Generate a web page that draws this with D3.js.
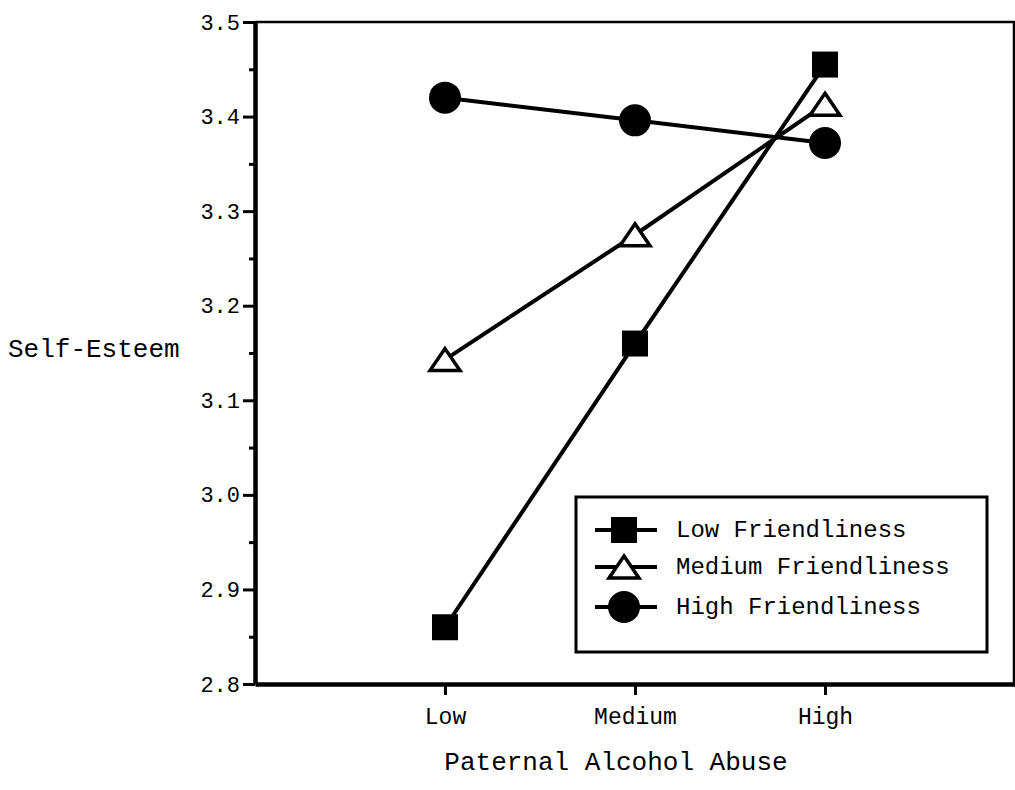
<!doctype HTML>
<html>
<head>
    <script src="https://d3js.org/d3.v7.min.js"></script>
    <style>
        body { margin: 0; background: #fff; }
        text { font-family: "Liberation Mono", "Courier New", monospace; fill: #000; }
    </style>
</head>
<body>
<script>

    // data
    var abuseLevels = ["Low", "Medium", "High"];
    var seriesNames = ["Low Friendliness", "Medium Friendliness", "High Friendliness"];
    var lowFriendliness = [2.86, 3.16, 3.455];
    var mediumFriendliness = [3.143, 3.275, 3.413];
    var highFriendliness = [3.42, 3.396, 3.372];
    var yTicks = [2.8, 2.9, 3.0, 3.1, 3.2, 3.3, 3.4, 3.5];
    var yMinorTicks = [2.85, 2.95, 3.05, 3.15, 3.25, 3.35, 3.45];

    var series = [
        {name: seriesNames[0], values: lowFriendliness, shape: "square"},
        {name: seriesNames[1], values: mediumFriendliness, shape: "triangle"},
        {name: seriesNames[2], values: highFriendliness, shape: "circle"}
    ];

    var margin = {top: 22, right: 0, bottom: 106, left: 255},
        width = 1015 - margin.left - margin.right,
        height = 790 - margin.top - margin.bottom;

    var svg = d3.select("body")
        .append("svg")
        .attr("width", 1015)
        .attr("height", 790)
        .append("g")
        .attr("transform", "translate(" + margin.left + "," + margin.top + ")");

    var x = d3.scalePoint()
        .domain(abuseLevels)
        .range([0, width])
        .padding(1);
    var y = d3.scaleLinear()
        .domain([2.8, 3.5])
        .range([height, 0]);

    // top and right frame
    svg.append("path")
        .attr("d", "M0,0H" + (width - 1) + "V" + height)
        .attr("fill", "none")
        .attr("stroke", "#000")
        .attr("stroke-width", 2.5);

    // y axis, minor ticks first
    svg.append("g")
        .call(d3.axisLeft(y).tickValues(yMinorTicks).tickSize(6).tickFormat(""))
        .call(g => g.select(".domain").remove())
        .selectAll("line").attr("stroke-width", 3);

    var yAxis = svg.append("g")
        .call(d3.axisLeft(y).tickValues(yTicks).tickSize(12).tickSizeOuter(0).tickPadding(3)
            .tickFormat(d3.format(".1f")));
    yAxis.select(".domain").attr("stroke-width", 4.5);
    yAxis.selectAll("line").attr("stroke-width", 3);
    yAxis.selectAll("text")
        .attr("font-size", "22px")
        .style("font-family", "'Liberation Mono', 'Courier New', monospace");

    // x axis
    var xAxis = svg.append("g")
        .attr("transform", "translate(0," + height + ")")
        .call(d3.axisBottom(x).tickSize(11).tickSizeOuter(0).tickPadding(13));
    xAxis.select(".domain").attr("stroke-width", 4.5);
    xAxis.selectAll("line").attr("stroke-width", 3);
    xAxis.selectAll("text")
        .attr("font-size", "23px")
        .style("font-family", "'Liberation Mono', 'Courier New', monospace");

    // axis titles
    svg.append("text")
        .attr("x", 616 - margin.left)
        .attr("y", 770 - margin.top)
        .attr("text-anchor", "middle")
        .attr("font-size", "26px")
        .text("Paternal Alcohol Abuse");

    svg.append("text")
        .attr("x", 8 - margin.left)
        .attr("y", 357 - margin.top)
        .attr("font-size", "26px")
        .text("Self-Esteem");

    // marker shapes
    function markerPath(shape) {
        if (shape === "square") return "M-13,-13H13V13H-13Z";
        if (shape === "triangle") return "M0,-11L15,11H-15Z";
        return d3.symbol().type(d3.symbolCircle).size(Math.PI * 16 * 16)();
    }
    function styleMarker(sel, shape) {
        sel.attr("d", markerPath(shape))
            .attr("fill", shape === "triangle" ? "#fff" : "#000")
            .attr("stroke", "#000")
            .attr("stroke-width", shape === "triangle" ? 3.5 : 0);
    }

    var line = d3.line()
        .x((d, i) => x(abuseLevels[i]))
        .y(d => y(d));

    svg.selectAll(".series-line")
        .data(series)
        .enter().append("path")
        .attr("class", "series-line")
        .attr("d", d => line(d.values))
        .attr("fill", "none")
        .attr("stroke", "#000")
        .attr("stroke-width", 4);

    series.forEach(function(s) {
        svg.selectAll(".pt-" + s.shape)
            .data(s.values)
            .enter().append("path")
            .attr("class", "pt-" + s.shape)
            .attr("transform", (d, i) => "translate(" + x(abuseLevels[i]) + "," + y(d) + ")")
            .call(styleMarker, s.shape);
    });

    // legend
    var legend = svg.append("g")
        .attr("transform", "translate(" + (576 - margin.left) + "," + (497 - margin.top) + ")");
    legend.append("rect")
        .attr("width", 411)
        .attr("height", 155)
        .attr("fill", "#fff")
        .attr("stroke", "#000")
        .attr("stroke-width", 3);

    var rows = [33, 70, 110];
    series.forEach(function(s, i) {
        var row = legend.append("g").attr("transform", "translate(0," + rows[i] + ")");
        row.append("line")
            .attr("x1", 19).attr("x2", 81)
            .attr("stroke", "#000").attr("stroke-width", 4);
        row.append("path")
            .attr("transform", "translate(48,0)")
            .call(styleMarker, s.shape);
        row.append("text")
            .attr("x", 100)
            .attr("dy", "0.3em")
            .attr("font-size", "24px")
            .text(s.name);
    });

</script>
</body>
</html>
